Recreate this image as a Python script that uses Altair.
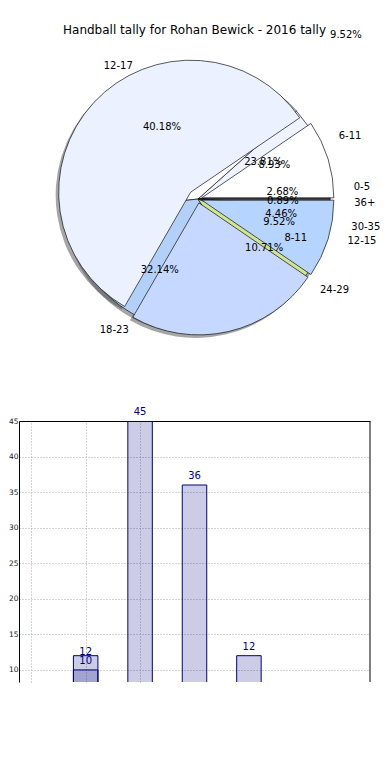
import math
import altair as alt
import pandas as pd

PI = math.pi

# ---------------- data ----------------
title_text = "Handball tally for Rohan Bewick - 2016 tally"

# main tally (pie A, counter-clockwise from east)
a_groups = ["0-5", "6-11", "12-17", "18-23", "24-29", "30-35", "36+"]
a_counts = [3, 10, 45, 36, 12, 5, 1]

# overlaid tally (pie B, clockwise from east, exploded)
b_groups = ["12-15", "8-11", "16-19", "4-7"]
b_counts = [2, 5, 12, 2]

# stray texts of the overlaid tally (angle in degrees, distance in radii)
b_note_text = ["12-15", "9.52%", "8-11", "23.81%", "9.52%"]
b_note_angle = [-17, -17, -23, 31, 50]
b_note_dist = [1.1, 0.6, 0.75, 0.54, 1.62]
b_note_align = ["left", "center", "center", "center", "center"]

# bar chart
bar_x = [0, 1, 2, 3, 4, 5, 6]
bar_vals = a_counts
extra_x = [1]
extra_vals = [12]
y_ticks = [10, 15, 20, 25, 30, 35, 40, 45]
x_grid = [0, 1, 2]

# ---------------- style ----------------
a_colors = ["#6A6A6A", "#EEF3FF", "#FFFFFF", "#B3D1F8", "#CFE68E", "#B5D4FF", "#6A6A6A"]
b_colors = ["#B5D4FF", "#C6D8FF", "#EBF1FF", "#FFFFFF"]
FONT = "DejaVu Sans"
NAVY = "#000080"

L = 19              # page x of the plot areas
CX = 198 - L        # pie centre inside the pie view
CY = 191
R = 132
RX, RY = 143, 132   # label ellipse radii
TX = 197 - L

dfA = pd.DataFrame({"group": a_groups, "count": a_counts, "order": range(len(a_groups))})
dfB = pd.DataFrame({"group": b_groups, "count": b_counts, "order": range(len(b_groups))})
dfN = pd.DataFrame({"text": b_note_text, "angle": b_note_angle, "dist": b_note_dist, "align": b_note_align})

totA = sum(a_counts)
totB = sum(b_counts)

baseA = (
    alt.Chart(dfA)
    .transform_window(cum="sum(count)", sort=[alt.SortField("order")], frame=[None, 0])
    .transform_joinaggregate(total="sum(count)")
    .transform_calculate(
        start="datum.cum - datum.count",
        ang="2*PI*(datum.cum - datum.count/2)/datum.total",
    )
    .transform_calculate(
        lx=f"{TX} + cos(datum.ang)*1.1*{RX}",
        ly=f"{CY} - sin(datum.ang)*1.1*{RY}",
        px=f"{TX} + cos(datum.ang)*0.6*{RX}",
        py=f"{CY} - sin(datum.ang)*0.6*{RY}",
        pct="format(100*datum.count/datum.total, '.2f') + '%'",
    )
)

thetaA = alt.Theta("start:Q", scale=alt.Scale(domain=[0, totA], range=[2.5 * PI, 0.5 * PI]))

shadowA = baseA.mark_arc(outerRadius=R, fill="#4D4D4D", fillOpacity=0.5).encode(
    theta=thetaA, theta2="cum:Q", x=alt.value(CX - 3), y=alt.value(CY + 3)
)
arcA = baseA.mark_arc(outerRadius=R, stroke="#111111", strokeWidth=0.7).encode(
    theta=thetaA,
    theta2="cum:Q",
    color=alt.Color("group:N", scale=alt.Scale(domain=a_groups, range=a_colors), legend=None),
    x=alt.value(CX),
    y=alt.value(CY),
)

baseB = (
    alt.Chart(dfB)
    .transform_window(cum="sum(count)", sort=[alt.SortField("order")], frame=[None, 0])
    .transform_joinaggregate(total="sum(count)")
    .transform_calculate(
        start="datum.cum - datum.count",
        mid="-2*PI*(datum.cum - datum.count/2)/datum.total",
        ex="datum.count >= 10 ? 10 : 4",
    )
    .transform_calculate(
        ox=f"{CX} + datum.ex*cos(datum.mid)",
        oy=f"{CY} - datum.ex*sin(datum.mid)",
        sx=f"{CX} + datum.ex*cos(datum.mid) - 3",
        sy=f"{CY} - datum.ex*sin(datum.mid) + 3",
    )
)
thetaB = alt.Theta("start:Q", scale=alt.Scale(domain=[0, totB], range=[0.5 * PI, 2.5 * PI]))

shadowB = baseB.mark_arc(outerRadius=R, fill="#4D4D4D", fillOpacity=0.5).encode(
    theta=thetaB, theta2="cum:Q",
    x=alt.X("sx:Q", scale=None), y=alt.Y("sy:Q", scale=None),
)
arcB = baseB.mark_arc(outerRadius=R, stroke="#111111", strokeWidth=0.7).encode(
    theta=thetaB,
    theta2="cum:Q",
    color=alt.Color("group:N", scale=alt.Scale(domain=b_groups, range=b_colors), legend=None),
    x=alt.X("ox:Q", scale=None),
    y=alt.Y("oy:Q", scale=None),
)

txt = dict(fontSize=10, font=FONT, color="black", baseline="middle")
labR = baseA.transform_filter("cos(datum.ang) > 0").mark_text(align="left", **txt).encode(
    x=alt.X("lx:Q", scale=None), y=alt.Y("ly:Q", scale=None), text="group:N"
)
labL = baseA.transform_filter("cos(datum.ang) <= 0").mark_text(align="right", **txt).encode(
    x=alt.X("lx:Q", scale=None), y=alt.Y("ly:Q", scale=None), text="group:N"
)
pctA = baseA.mark_text(align="center", **txt).encode(
    x=alt.X("px:Q", scale=None), y=alt.Y("py:Q", scale=None), text="pct:N"
)

baseN = alt.Chart(dfN).transform_calculate(
    nx=f"{TX} + cos(datum.angle*PI/180)*datum.dist*{RX}",
    ny=f"{CY} - sin(datum.angle*PI/180)*datum.dist*{RY}",
)
noteL = baseN.transform_filter("datum.align == 'left'").mark_text(align="left", **txt).encode(
    x=alt.X("nx:Q", scale=None), y=alt.Y("ny:Q", scale=None), text="text:N"
)
noteC = baseN.transform_filter("datum.align == 'center'").mark_text(align="center", **txt).encode(
    x=alt.X("nx:Q", scale=None), y=alt.Y("ny:Q", scale=None), text="text:N"
)

title = alt.Chart(pd.DataFrame({"t": [title_text]})).mark_text(
    fontSize=12, font=FONT, color="black", align="center", baseline="alphabetic"
).encode(x=alt.value(194.5 - L), y=alt.value(34 - 8), text="t:N")

pie = (
    alt.layer(shadowA, shadowB, arcA, arcB, labR, labL, pctA, noteL, noteC, title)
    .resolve_scale(theta="independent", color="independent")
    .properties(width=351, height=405)
)

# ---------------- bar chart ----------------
dfBar = pd.DataFrame(
    {"x": bar_x + extra_x, "val": bar_vals + extra_vals, "series": ["a"] * len(bar_x) + ["b"] * len(extra_x)}
)
YMIN, YMAX = 8.3, 45
XMIN, XMAX = -0.225, 6.225
xs = alt.Scale(domain=[XMIN, XMAX], nice=False, zero=False)
ys = alt.Scale(domain=[YMIN, YMAX], nice=False, zero=False)

x_axis = alt.Axis(orient="top", values=x_grid, labels=False, ticks=False, domain=True,
                  domainColor="black", domainWidth=1, grid=True, gridDash=[1, 2],
                  gridColor="#a8a8a8", title=None)
y_axis = alt.Axis(values=y_ticks, ticks=False, labelFontSize=7.5, labelFont=FONT,
                  labelColor="#222222", labelPadding=1, labelOverlap=False, labelBound=False,
                  domain=True, domainColor="black", domainWidth=1, grid=True,
                  gridDash=[1, 2], gridColor="#a8a8a8", title=None)

bbase = alt.Chart(dfBar).transform_calculate(x0="datum.x - 0.225", x1="datum.x + 0.225")

bars = bbase.mark_bar(clip=True, fill=NAVY, fillOpacity=0.2, stroke=NAVY, strokeWidth=1).encode(
    x=alt.X("x0:Q", scale=xs, axis=x_axis),
    x2="x1:Q",
    y=alt.Y("val:Q", scale=ys, axis=y_axis),
    y2=alt.datum(0),
)
lab_style = dict(color=NAVY, fontSize=10, font=FONT, baseline="bottom")
blabels_a = bbase.transform_filter(f"datum.val >= {YMIN} && datum.series == 'a'").mark_text(
    dy=-4, **lab_style
).encode(
    x=alt.X("x:Q", scale=xs, axis=x_axis),
    y=alt.Y("val:Q", scale=ys, axis=y_axis),
    text="val:Q",
)
blabels_b = bbase.transform_filter(f"datum.val >= {YMIN} && datum.series == 'b'").mark_text(
    dy=1, **lab_style
).encode(
    x=alt.X("x:Q", scale=xs, axis=x_axis),
    y=alt.Y("val:Q", scale=ys, axis=y_axis),
    text="val:Q",
)

right_border = alt.Chart(pd.DataFrame({"v": [0]})).mark_rule(color="black", strokeWidth=1).encode(
    x=alt.X(datum=XMAX, scale=xs, axis=x_axis),
    y=alt.Y(datum=YMAX, scale=ys, axis=y_axis),
    y2=alt.datum(YMIN),
)

barchart = alt.layer(bars, blabels_b, blabels_a, right_border).properties(width=351, height=261)

chart = (
    alt.vconcat(pie, barchart, spacing=8, bounds="flush")
    .properties(padding=0)
    .configure_view(strokeWidth=0)
)

chart.save("out.html", embed_options={"renderer": "svg", "actions": False})
